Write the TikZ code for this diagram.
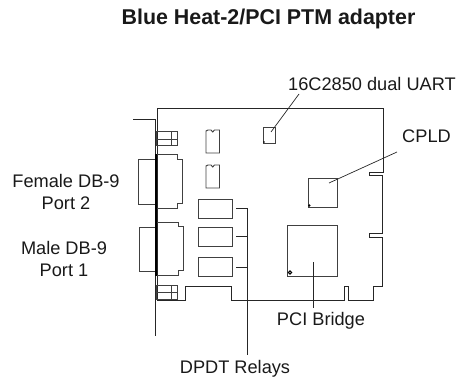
\documentclass[tikz,border=0pt]{standalone}
\usepackage{fontspec}
\setmainfont{Liberation Sans}
\tikzset{
 card/.style={line width=0.9pt,draw=black!85},
 part/.style={line width=0.9pt,draw=black!75},
 lead/.style={line width=0.7pt,draw=black!85},
 lab/.style={font=\fontsize{18.2pt}{22pt}\selectfont,text=black!90,inner sep=0pt,align=center},
 every path/.style={line join=miter}
}
\begin{document}
\begin{tikzpicture}[x=1pt,y=-1pt]
\useasboundingbox (0,0) rectangle (459,380);
% card
\draw[card] (157.5,300.5) -- (157.5,108.5) -- (383,108.5) -- (383,172) -- (369,172) -- (369,175) -- (382.5,175) -- (382.5,233) -- (369,233) -- (369,237) -- (382.5,237) -- (382.5,286.5) -- (373.5,286.5) -- (373.5,300.5) -- (348.5,300.5) -- (348.5,286) -- (344.5,286) -- (344.5,300.5) -- (231,300.5) -- (231,286) -- (185,286) -- (185,300.5) -- cycle;
% bracket
\draw[card] (133,119) -- (155,119) -- (155,336);
\draw[line width=2.4pt,black] (156,154) -- (156,276);
% bracket tabs
\draw[part] (156,131) rectangle (177,145) (156,139) -- (177,139) (171,131) -- (171,145);
\draw[part] (156,285) rectangle (177,299) (156,292) -- (177,292) (171,285) -- (171,299);
% connectors
\draw[part] (155,159) -- (138,159) -- (138,204) -- (155,204);
\draw[part] (157,154) -- (177,154) -- (177,159) -- (182,159) -- (182,203) -- (177,203) -- (177,208.5) -- (157,208.5);
\draw[part] (155,227) -- (139,227) -- (139,271) -- (155,271);
\draw[part] (157,222) -- (178,222) -- (178,226.5) -- (183,226.5) -- (183,270) -- (178,270) -- (178,275) -- (157,275);
% ICs
\draw[part] (206,131) -- (208,130) -- (211,130) -- (212.7,132) -- (214.5,130) -- (219.5,130) -- (219.5,153) -- (206,153) -- cycle;
\draw[part] (206,166) -- (208,165) -- (211,165) -- (212.7,167) -- (214.5,165) -- (219.5,165) -- (219.5,188) -- (206,188) -- cycle;
% relays
\node[part,draw,minimum width=34pt,minimum height=19pt,inner sep=0pt] (r1) at (215.5,208.5) {};
\node[part,draw,minimum width=34pt,minimum height=19pt,inner sep=0pt] (r2) at (215.5,236.5) {};
\node[part,draw,minimum width=34pt,minimum height=19pt,inner sep=0pt] (r3) at (215.5,266.5) {};
% chips
\node[part,draw,minimum width=12.5pt,minimum height=16pt,inner sep=0pt] (uart) at (269.2,135) {};
\node[part,draw,minimum width=29.5pt,minimum height=29pt,inner sep=0pt] (cpld) at (322.7,192.5) {};
\node[part,draw,minimum width=50.5pt,minimum height=51pt,inner sep=0pt] (pci) at (312.2,250.5) {};
\fill (264,142) circle (0.8pt);
\fill (309.3,205.5) circle (1.3pt);
\draw[line width=1pt] (290,272.5) circle (1.6pt);
% labels
\node[lab,anchor=base,font=\bfseries\fontsize{21.4pt}{25pt}\selectfont] (title) at (268.5,24) {Blue Heat-2/PCI PTM adapter};
\node[lab,anchor=base] (luart) at (372,90.5) {16C2850 dual UART};
\node[lab,anchor=base] (lcpld) at (426.5,142) {CPLD};
\node[lab,anchor=base] (lpci) at (321,325) {PCI Bridge};
\node[lab,anchor=base] (lrel) at (235,373) {DPDT Relays};
\node[lab] (lf) at (66,192) {Female DB-9\\Port 2};
\node[lab] (lm) at (64,259) {Male DB-9\\Port 1};
% leaders
\coordinate (a1) at (271,132);
\coordinate (a2) at (299,94);
\draw[lead] (a1) -- (a2);
\coordinate (b1) at (329,183);
\coordinate (b2) at (397,152);
\draw[lead] (b1) -- (b2);
\coordinate (c1) at (313,262);
\coordinate (c2) at (313,308);
\draw[lead] (c1) -- (c2);
\coordinate (d0) at (247,208);
\coordinate (d1) at (236,208);
\coordinate (d2) at (236,236);
\coordinate (d3) at (236,267);
\coordinate (d4) at (247,354.7);
\draw[lead] (d1) -- (d0) -- (d4);
\draw[lead] (d2) -- (d2 -| d0);
\draw[lead] (d3) -- (d3 -| d0);
\end{tikzpicture}
\end{document}
